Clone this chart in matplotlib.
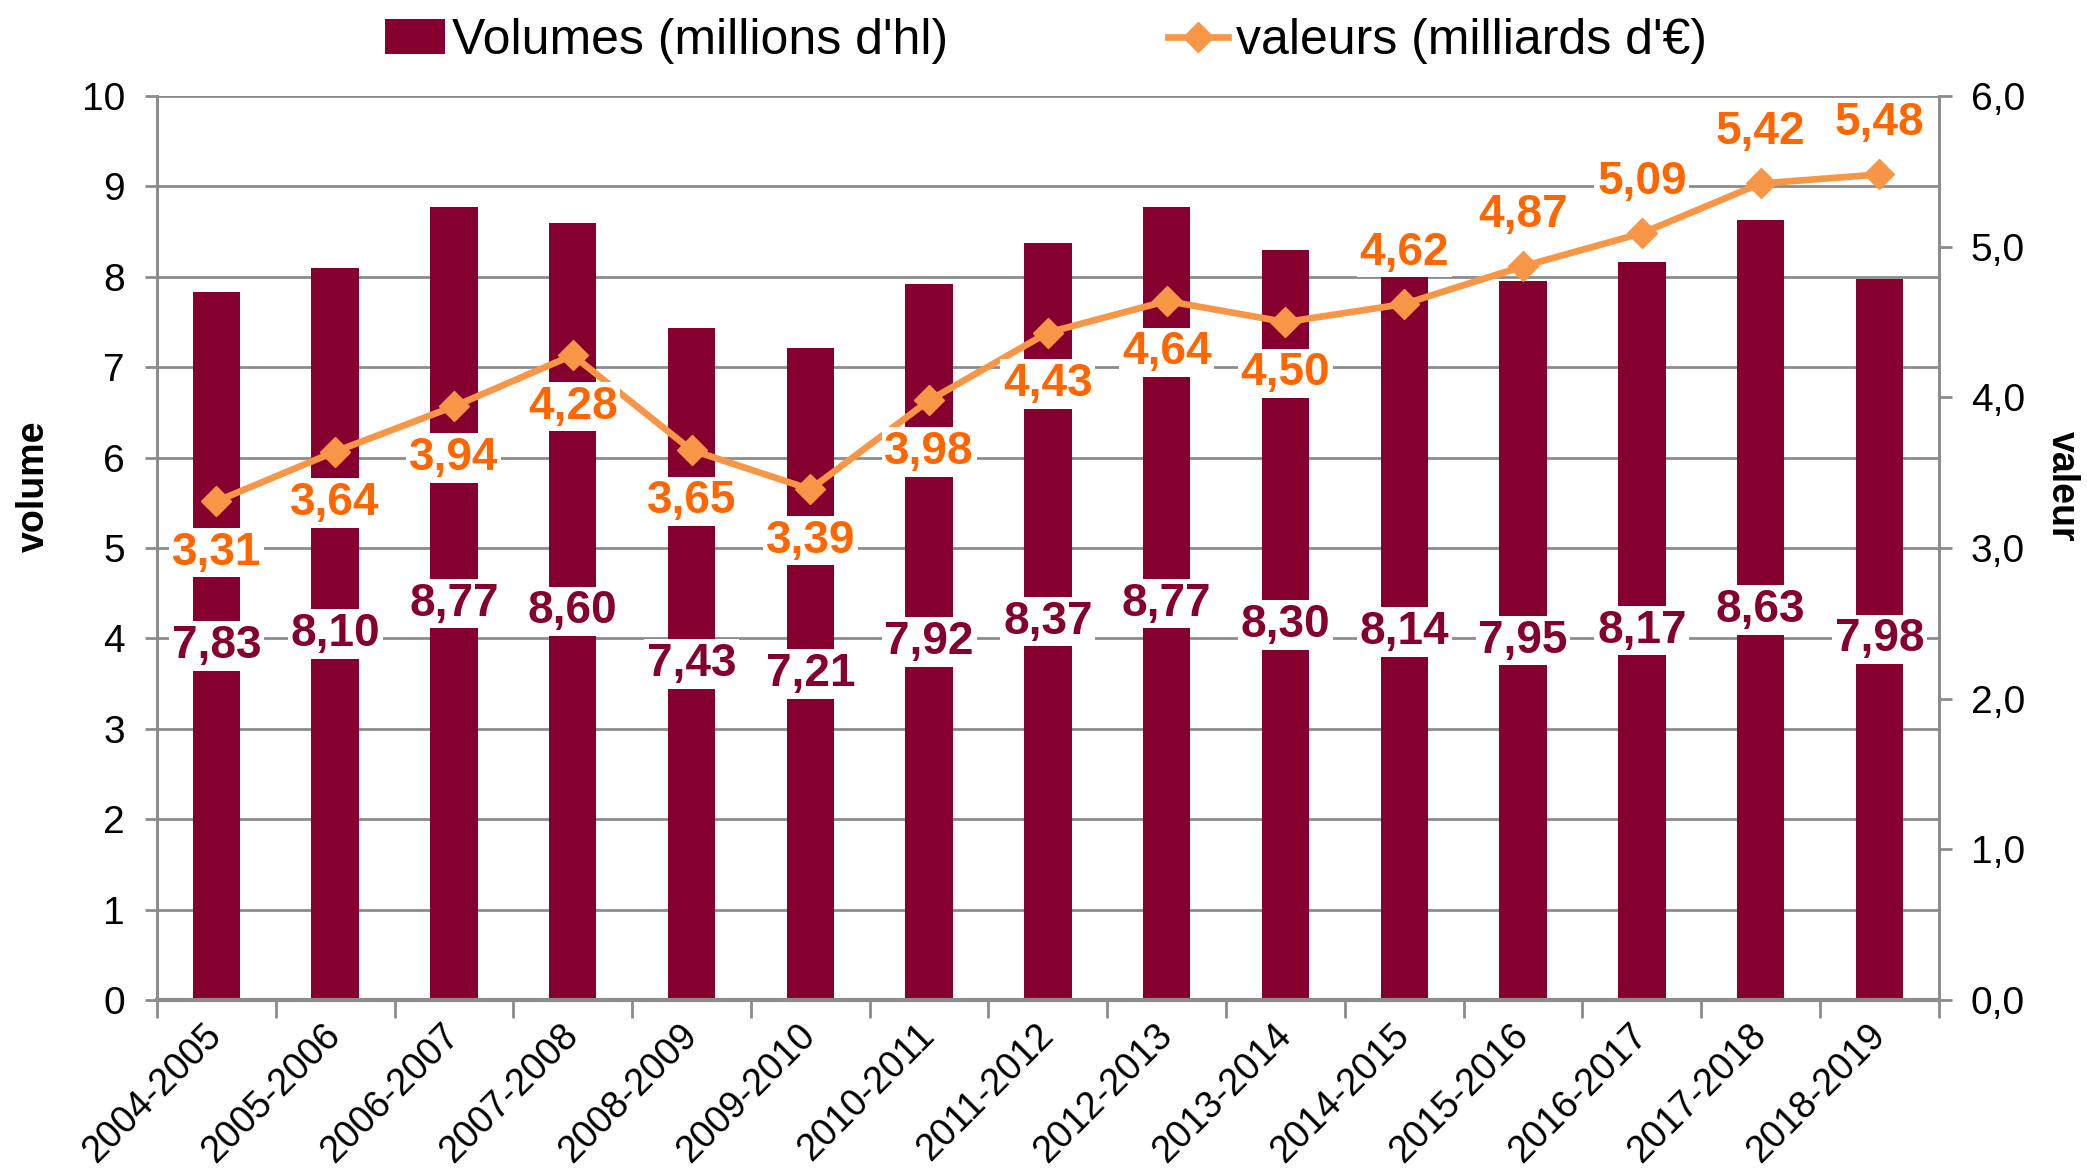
import numpy as np
import matplotlib.pyplot as plt

plt.rcParams['font.family'] = ['Liberation Sans', 'DejaVu Sans']

campagnes = ['2004-2005', '2005-2006', '2006-2007', '2007-2008', '2008-2009',
             '2009-2010', '2010-2011', '2011-2012', '2012-2013', '2013-2014',
             '2014-2015', '2015-2016', '2016-2017', '2017-2018', '2018-2019']
volumes = [7.83, 8.10, 8.77, 8.60, 7.43, 7.21, 7.92, 8.37, 8.77, 8.30,
           8.14, 7.95, 8.17, 8.63, 7.98]
valeurs = [3.31, 3.64, 3.94, 4.28, 3.65, 3.39, 3.98, 4.43, 4.64, 4.50,
           4.62, 4.87, 5.09, 5.42, 5.48]
# position des étiquettes de valeur : -1 = dessous, 1 = dessus
pos_valeurs = [-1, -1, -1, -1, -1, -1, -1, -1, -1, -1, 1, 1, 1, 1, 1]

BORDEAUX = '#85002F'
ORANGE_LIGNE = '#F79646'
ORANGE_TEXTE = '#FF6600'
GRIS = '#8C8C8C'

fig = plt.figure(figsize=(20.87, 11.72), dpi=100)
ax = fig.add_axes([0.0752, 0.1468, 0.8538, 0.7712])
ax2 = ax.twinx()

x = np.arange(len(campagnes))

# ---------------------------------------------------------------
# barres volumes
# ---------------------------------------------------------------
barres = ax.bar(x, volumes, width=0.4, color=BORDEAUX, zorder=2,
                label="Volumes (millions d'hl)")
ax.set_ylim(0, 10)
ax.set_xlim(-0.5, len(campagnes) - 0.5)
ax.set_yticks(range(0, 11))
ax.yaxis.grid(True, color=GRIS, linewidth=2)
ax.set_axisbelow(True)

for xi, v in zip(x, volumes):
    ax.text(xi, v / 2, f'{v:.2f}'.replace('.', ','), ha='center', va='center',
            fontsize=33, fontweight='bold', color=BORDEAUX, zorder=10,
            bbox=dict(facecolor='white', edgecolor='none', pad=2))

# ---------------------------------------------------------------
# ligne valeurs
# ---------------------------------------------------------------
ligne, = ax2.plot(x, valeurs, color=ORANGE_LIGNE, linewidth=4.8, marker='D',
                  markersize=15, zorder=3, label="valeurs (milliards d'€)")
ax2.set_ylim(0, 6)
ax2.set_yticks(range(0, 7))
ax2.set_yticklabels([f'{t},0' for t in range(0, 7)])

for xi, v, p in zip(x, valeurs, pos_valeurs):
    ax2.annotate(f'{v:.2f}'.replace('.', ','), (xi, v), xytext=(0, 37 * p),
                 textcoords='offset points', ha='center', va='center',
                 fontsize=33, fontweight='bold', color=ORANGE_TEXTE, zorder=10,
                 bbox=dict(facecolor='white', edgecolor='none', pad=2))

# ---------------------------------------------------------------
# axes
# ---------------------------------------------------------------
for a in (ax, ax2):
    a.spines['top'].set_visible(False)
    for s in ('left', 'right', 'bottom'):
        a.spines[s].set_color(GRIS)
        a.spines[s].set_linewidth(2)
ax.spines['bottom'].set_linewidth(3)

ax.tick_params(axis='y', length=9, width=2, color=GRIS, labelsize=28, pad=14)
ax2.tick_params(axis='y', length=9, width=2, color=GRIS, labelsize=28, pad=14)

ax.set_xticks(x)
ax.set_xticklabels(campagnes, rotation=45, ha='right', va='center',
                   rotation_mode='anchor', fontsize=27)
ax.set_xticks(np.arange(-0.5, len(campagnes)), minor=True)
ax.tick_params(axis='x', which='major', length=0, pad=22)
ax.tick_params(axis='x', which='minor', length=13, width=2, color=GRIS)

fig.text(0.016, 0.585, 'volume', rotation=90, ha='center', va='center',
         fontsize=27, fontweight='bold')
fig.text(0.988, 0.585, 'valeur', rotation=-90, ha='center', va='center',
         fontsize=27, fontweight='bold')

fig.legend(handles=[barres, ligne], loc='center', bbox_to_anchor=(0.501, 0.965),
           ncol=2, frameon=False, fontsize=36, handlelength=1.2,
           handletextpad=0.15, columnspacing=4.4)

plt.savefig('out.png', dpi=100)
